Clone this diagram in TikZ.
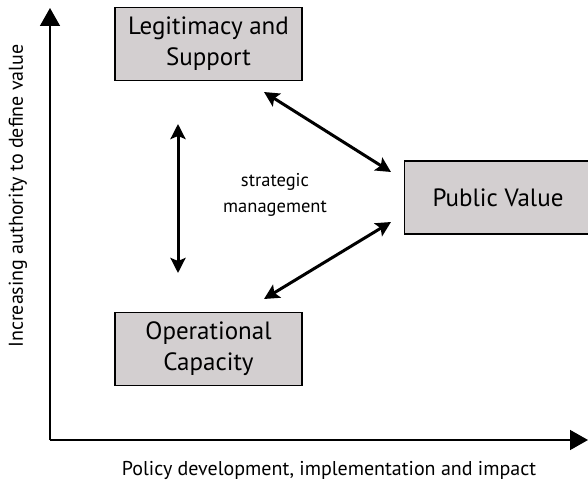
\documentclass[tikz,border=0pt]{standalone}
\usepackage{fontspec}
\setmainfont{PT Sans}
\usetikzlibrary{arrows.meta}
\definecolor{boxgray}{HTML}{D3CFD0}
\begin{document}
\begin{tikzpicture}[x=1pt,y=-1pt,
  box/.style={draw=black,line width=1.5pt,fill=boxgray,minimum width=187pt,minimum height=73pt,align=center,font=\fontsize{25}{31}\selectfont,inner sep=0pt},
  dbl/.style={{Stealth[length=15pt,width=15pt,inset=3pt]}-{Stealth[length=15pt,width=15pt,inset=3pt]},line width=3pt},
  axis/.style={-{Triangle[length=18pt,width=20pt]},line width=1.5pt},
  lab/.style={font=\fontsize{20}{24}\selectfont}]
\useasboundingbox (0,0) rectangle (588,484);
\coordinate (O) at (50,440);
\coordinate (Ytop) at (50,8);
\coordinate (Xend) at (588,440);
\draw[axis] (O) -- (Ytop);
\draw[axis] (O) -- (Xend);
\node[box] (L) at (208.5,44) {Legitimacy and\\Support};
\node[box] (P) at (498,197.5) {Public Value};
\node[box] (C) at (208.5,349) {Operational\\Capacity};
\coordinate (v1) at (178,124);
\coordinate (v2) at (178,273);
\draw[dbl] (v1) -- (v2);
\coordinate (a1) at (264,92);
\coordinate (a2) at (391,172);
\draw[dbl] (a1) -- (a2);
\coordinate (b1) at (391,222);
\coordinate (b2) at (264,299);
\draw[dbl] (b1) -- (b2);
\node[align=center,font=\fontsize{18.5}{26}\selectfont] (S) at (275,195) {strategic\\management};
\node[lab,rotate=90] (YL) at (18,196) {Increasing authority to define value};
\node[lab] (XL) at (329,470) {Policy development, implementation and impact};
\end{tikzpicture}
\end{document}
